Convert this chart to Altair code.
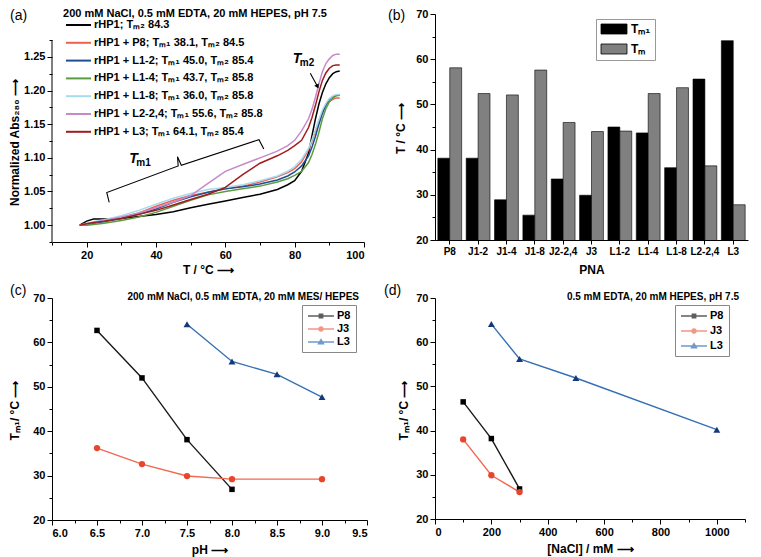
import altair as alt
import pandas as pd

FONT = "Liberation Sans"

# ---------------- Panel (a): melting curves ----------------
T_A = [18, 20, 22, 25, 30, 35, 40, 45, 50, 55, 60, 65, 70, 75, 78, 80, 82, 84, 85, 86, 87, 88, 89, 90, 91, 92, 93]
ABS_RHP1 = [1.000, 1.006, 1.009, 1.009, 1.010, 1.013, 1.016, 1.020, 1.026, 1.031, 1.036, 1.041, 1.046, 1.053,
            1.060, 1.066, 1.080, 1.107, 1.133, 1.158, 1.180, 1.197, 1.210, 1.219, 1.225, 1.228, 1.229]
ABS_P8 = [1.000, 1.002, 1.004, 1.006, 1.011, 1.018, 1.028, 1.037, 1.044, 1.049, 1.054, 1.058, 1.064, 1.072,
          1.078, 1.084, 1.094, 1.112, 1.125, 1.140, 1.155, 1.168, 1.178, 1.184, 1.187, 1.189, 1.189]
ABS_L12 = [1.000, 1.001, 1.003, 1.005, 1.010, 1.016, 1.024, 1.034, 1.042, 1.049, 1.054, 1.057, 1.061, 1.067,
           1.073, 1.079, 1.088, 1.103, 1.116, 1.132, 1.150, 1.166, 1.179, 1.187, 1.191, 1.193, 1.193]
ABS_L14 = [1.000, 1.000, 1.001, 1.003, 1.007, 1.012, 1.019, 1.028, 1.037, 1.045, 1.050, 1.054, 1.058, 1.064,
           1.069, 1.074, 1.080, 1.093, 1.105, 1.120, 1.138, 1.158, 1.173, 1.183, 1.189, 1.192, 1.193]
ABS_L18 = [1.000, 1.002, 1.005, 1.008, 1.014, 1.022, 1.031, 1.040, 1.047, 1.053, 1.056, 1.060, 1.066, 1.073,
           1.080, 1.087, 1.098, 1.114, 1.127, 1.142, 1.157, 1.171, 1.181, 1.188, 1.192, 1.194, 1.194]
ABS_L224 = [1.000, 1.002, 1.004, 1.007, 1.012, 1.018, 1.026, 1.034, 1.044, 1.062, 1.080, 1.090, 1.100, 1.110,
            1.118, 1.126, 1.140, 1.158, 1.172, 1.190, 1.210, 1.228, 1.240, 1.247, 1.252, 1.254, 1.254]
ABS_L3 = [1.000, 1.002, 1.004, 1.006, 1.010, 1.016, 1.022, 1.030, 1.038, 1.046, 1.056, 1.075, 1.092, 1.103,
          1.111, 1.118, 1.126, 1.145, 1.160, 1.178, 1.198, 1.215, 1.226, 1.233, 1.237, 1.238, 1.238]
CURVES_A = [ABS_RHP1, ABS_P8, ABS_L12, ABS_L14, ABS_L18, ABS_L224, ABS_L3]
NAMES_A = ["rHP1", "rHP1 + P8", "rHP1 + L1-2", "rHP1 + L1-4", "rHP1 + L1-8", "rHP1 + L2-2,4", "rHP1 + L3"]
TM1_A = [None, 38.1, 45.0, 43.7, 36.0, 55.6, 64.1]
TM2_A = [84.3, 84.5, 85.4, 85.8, 85.8, 85.8, 85.4]
COLORS_A = ["#000000", "#f0604c", "#1f4e96", "#5c9c3c", "#a6dcee", "#c68ac8", "#a01c1c"]
A_X_RANGE = [10, 100]
A_Y_RANGE = [0.975, 1.275]

BRACE_T = [26.5, 25.8, 46.4, 46.2, 47.3, 69.7, 71.1]
BRACE_A = [1.034, 1.0485, 1.088, 1.1016, 1.089, 1.127, 1.113]
ARROW_T = [84.5, 86.6]
ARROW_A = [1.2256, 1.2058]
NOTE_T = [33.5, 80.7]
NOTE_A = [1.098, 1.2467]
NOTE_SUB = ["m1", "m2"]

# ---------------- Panel (b): bars ----------------
PNA = ["P8", "J1-2", "J1-4", "J1-8", "J2-2,4", "J3", "L1-2", "L1-4", "L1-8", "L2-2,4", "L3"]
TM1_B = [38.1, 38.1, 28.9, 25.5, 33.5, 29.9, 45.0, 43.7, 36.0, 55.6, 64.1]
TM_B = [58.1, 52.4, 52.1, 57.6, 46.0, 44.0, 44.1, 52.4, 53.7, 36.4, 27.8]
SER_B = ["Tₘ₁", "Tₘ"]
COLORS_B = ["#000000", "#808080"]

# ---------------- Panels (c), (d) ----------------
SER_CD = ["P8", "J3", "L3"]
PH_C = [[6.5, 7.0, 7.5, 8.0], [6.5, 7.0, 7.5, 8.0, 9.0], [7.5, 8.0, 8.5, 9.0]]
TM_C = [[62.7, 52.0, 38.1, 26.9], [36.2, 32.6, 29.9, 29.2, 29.2], [64.1, 55.7, 52.8, 47.7]]
NACL_D = [[100, 200, 300], [100, 200, 300], [200, 300, 500, 1000]]
TM_D = [[46.5, 38.2, 26.8], [38.0, 29.9, 26.1], [64.1, 56.2, 51.9, 40.2]]
LINE_COLS = ["#1a1a1a", "#ef6a50", "#3470b3"]
MARK_COLS = ["#000000", "#e8462c", "#16397a"]
SHAPES = ["square", "circle", "triangle-up"]
MARK_SIZES = [30, 40, 48]

# ---------------- layout ----------------
WA, HA_AXIS, HA = 312, 202, 228
WB, HB = 313, 226
WC, HC = 315, 222
WD, HD = 310, 221

one = pd.DataFrame({"k": [0]})


def tick_cond(test):
    return {"condition": {"test": test, "value": 5}, "value": 3}


def txt(x, y, s, **kw):
    return alt.Chart(one).mark_text(**kw).encode(x=alt.value(x), y=alt.value(y), text=alt.value(s))


# legend symbol paths (unit radius = 5 px at symbolSize 100); line runs to the right of the symbol column
def leg_path(marker):
    c = 1.6
    line = "M-1,0H4.2"
    if marker == "square":
        a, b = 0.33, 0.12
        return (line + f"M{c-a},{-a}H{c+a}V{a}H{c-a}Z" + f"M{c-b},{-b}H{c+b}V{b}H{c-b}Z")
    if marker == "circle":
        a, b = 0.38, 0.12
        return (line + f"M{c-a},0A{a},{a} 0 1,0 {c+a},0A{a},{a} 0 1,0 {c-a},0Z"
                + f"M{c-b},0A{b},{b} 0 1,0 {c+b},0A{b},{b} 0 1,0 {c-b},0Z")
    a = 0.48
    return (line + f"M{c-a},{0.34}L{c},{-0.46}L{c+a},{0.34}Z" + f"M{c-0.16},{0.12}L{c},{-0.15}L{c+0.16},{0.12}Z")


LEG_PATHS = [leg_path(s) for s in SHAPES]

# ===== Panel (a) =====
rows = []
labels_a = []
for name, t1, t2, ys in zip(NAMES_A, TM1_A, TM2_A, CURVES_A):
    lab = name + "; " + (f"Tₘ₁ {t1:.1f}, " if t1 is not None else "") + f"Tₘ₂ {t2:.1f}"
    labels_a.append(lab)
    for t, a in zip(T_A, ys):
        rows.append({"T": t, "A": a, "label": lab})
df_a = pd.DataFrame(rows)

ytop = A_Y_RANGE[1] + (HA - HA_AXIS) / HA_AXIS * (A_Y_RANGE[1] - A_Y_RANGE[0])
xa = alt.Scale(domain=A_X_RANGE, nice=False, zero=False)
ya = alt.Scale(domain=[A_Y_RANGE[0], ytop], nice=False, zero=False)
major_a_y = "abs(datum.value*20 - round(datum.value*20)) < 0.001"
axis_xa = alt.Axis(values=list(range(10, 101, 10)), labelExpr="datum.value % 20 === 0 ? datum.label : ''",
                   tickSize=tick_cond("datum.value % 20 === 0"), title="T / °C ⟶", titlePadding=4)
axis_ya = alt.Axis(values=[round(A_Y_RANGE[0] + 0.025 * k, 3) for k in range(13)], format=".2f",
                   labelExpr=f"{major_a_y} ? datum.label : ''", tickSize=tick_cond(major_a_y), domain=False,
                   title="Normalized Abs₂₈₀ ⟶", titleAngle=270, titleX=-31, titleY=128,
                   titleBaseline="bottom", titleAlign="center")
leg_a = alt.Legend(title=None, orient="none", legendX=13, legendY=5, symbolType="M-1,0H4", symbolSize=100,
                   symbolStrokeWidth=2, labelFontSize=11, labelFontWeight="bold", labelFont=FONT,
                   rowPadding=6.8, labelOffset=17, padding=0, labelLimit=400)


def XA(f="T"):
    return alt.X(f"{f}:Q", scale=xa, axis=axis_xa)


def YA(f="A"):
    return alt.Y(f"{f}:Q", scale=ya, axis=axis_ya)


lines_a = alt.Chart(df_a).mark_line(strokeWidth=1.5).encode(
    x=XA(), y=YA(),
    color=alt.Color("label:N", scale=alt.Scale(domain=labels_a, range=COLORS_A), legend=leg_a, sort=labels_a),
)
yrule_a = alt.Chart(pd.DataFrame({"T": [A_X_RANGE[0]], "A": [A_Y_RANGE[0]], "A2": [A_Y_RANGE[1]]})).mark_rule(
    color="black", strokeWidth=1).encode(x=XA(), y=YA(), y2="A2:Q")
brace = alt.Chart(pd.DataFrame({"T": BRACE_T, "A": BRACE_A, "o": list(range(len(BRACE_T)))})).mark_line(
    color="black", strokeWidth=1.1).encode(x=XA(), y=YA(), order="o:Q")
arrow = alt.Chart(pd.DataFrame({"T": [ARROW_T[0]], "A": [ARROW_A[0]], "T2": [ARROW_T[1]], "A2": [ARROW_A[1]]})).mark_rule(
    color="black", strokeWidth=1.1).encode(x=XA(), y=YA(), x2="T2:Q", y2="A2:Q")
arrowhead = alt.Chart(pd.DataFrame({"T": [ARROW_T[1]], "A": [ARROW_A[1]]})).mark_point(
    shape="triangle-up", angle=152, filled=True, size=26, color="black", opacity=1).encode(x=XA(), y=YA())
notes = pd.DataFrame({"T": NOTE_T, "A": NOTE_A, "sub": NOTE_SUB})
note_t = alt.Chart(notes).mark_text(text="T", fontStyle="italic", fontWeight="bold", fontSize=14, font=FONT).encode(
    x=XA(), y=YA())
note_s = alt.Chart(notes).mark_text(fontWeight="bold", fontSize=10, font=FONT, dx=10, dy=4).encode(
    x=XA(), y=YA(), text="sub:N")
title_a = txt(143, 0, "200 mM NaCl, 0.5 mM EDTA, 20 mM HEPES, pH 7.5", fontSize=11, fontWeight="bold",
              baseline="middle", font=FONT)
plab_a = txt(-42, 2, "(a)", fontSize=14, align="left", baseline="middle", font=FONT)

panel_a = alt.layer(lines_a, yrule_a, brace, arrow, arrowhead, note_t, note_s, title_a, plab_a).properties(
    width=WA, height=HA)

# ===== Panel (b) =====
rows = []
for p, v1, v2 in zip(PNA, TM1_B, TM_B):
    rows.append({"PNA": p, "series": SER_B[0], "T": v1})
    rows.append({"PNA": p, "series": SER_B[1], "T": v2})
df_b = pd.DataFrame(rows)
leg_b = alt.Legend(title=None, orient="none", legendX=161, legendY=5, symbolType="M-1,-1H4.2V1H-1Z",
                   symbolSize=100, symbolStrokeColor="black", symbolStrokeWidth=0.8, strokeColor="#999999",
                   fillColor="white", padding=4, rowPadding=6, labelFontSize=12, labelFontWeight="bold",
                   labelFont=FONT, labelOffset=19)
bars = alt.Chart(df_b).mark_bar(stroke="black", strokeWidth=0.6, clip=True).encode(
    x=alt.X("PNA:N", sort=PNA, scale=alt.Scale(paddingInner=0.16, paddingOuter=0.1),
            axis=alt.Axis(title="PNA", labelAngle=0, labelFontSize=10, tickSize=4, titlePadding=8)),
    xOffset=alt.XOffset("series:N", sort=SER_B),
    y=alt.Y("T:Q", scale=alt.Scale(domain=[20, 70], nice=False, zero=False),
            axis=alt.Axis(values=list(range(20, 71, 5)), labelExpr="datum.value % 10 === 0 ? datum.label : ''",
                          tickSize=tick_cond("datum.value % 10 === 0"), title="T / °C ⟶", titleAngle=270,
                          titleX=-28, titleY=114, titleBaseline="bottom", titleAlign="center")),
    color=alt.Color("series:N", scale=alt.Scale(domain=SER_B, range=COLORS_B), legend=leg_b, sort=SER_B),
)
plab_b = txt(-47, 2, "(b)", fontSize=14, align="left", baseline="middle", font=FONT)
panel_b = alt.layer(bars, plab_b).properties(width=WB, height=HB)


# ===== Panels (c), (d) =====
def line_panel(xs_list, ys_list, xdomain, xvalues, major_test, label_fmt, xtitle, w, h, leg_x, leg_y, row_pad,
               cond_text, cond_right, plabel, plabel_x, ytitle_x):
    rows = []
    for s, xs, ys in zip(SER_CD, xs_list, ys_list):
        for xv, yv in zip(xs, ys):
            rows.append({"x": xv, "y": yv, "series": s})
    df = pd.DataFrame(rows)
    xs_ = alt.Scale(domain=xdomain, nice=False, zero=False)
    ys_ = alt.Scale(domain=[20, 70], nice=False, zero=False)
    ax_x = alt.Axis(values=xvalues, labelExpr=f"{major_test} ? format(datum.value, '{label_fmt}') : ''",
                    tickSize=tick_cond(major_test), title=xtitle, titlePadding=6)
    ax_y = alt.Axis(values=list(range(20, 71, 5)), labelExpr="datum.value % 10 === 0 ? datum.label : ''",
                    tickSize=tick_cond("datum.value % 10 === 0"), title="Tₘ₁/ °C ⟶", titleAngle=270,
                    titleX=ytitle_x, titleY=112, titleBaseline="bottom", titleAlign="center")
    X = alt.X("x:Q", scale=xs_, axis=ax_x)
    Y = alt.Y("y:Q", scale=ys_, axis=ax_y)
    cscale = alt.Scale(domain=SER_CD, range=LINE_COLS)
    leg = alt.Legend(title=None, orient="none", legendX=leg_x, legendY=leg_y, symbolSize=100,
                     symbolStrokeWidth=1.5, labelFontSize=11, labelFontWeight="bold", labelFont=FONT,
                     rowPadding=row_pad, padding=5, strokeColor="#888888", fillColor="white", labelOffset=18)
    line = alt.Chart(df).mark_line(strokeWidth=1.4).encode(
        x=X, y=Y, color=alt.Color("series:N", scale=cscale, legend=leg, sort=SER_CD))
    layers = [line]
    for s, shp, col, sz in zip(SER_CD, SHAPES, MARK_COLS, MARK_SIZES):
        layers.append(alt.Chart(df).transform_filter(alt.datum.series == s).mark_point(
            shape=shp, filled=True, size=sz, color=col, opacity=1).encode(x=X, y=Y))
    leg_layer = alt.Chart(df).mark_point(size=0, filled=False, strokeWidth=1.5).encode(
        x=X, y=Y,
        color=alt.Color("series:N", scale=cscale, legend=leg, sort=SER_CD),
        shape=alt.Shape("series:N", scale=alt.Scale(domain=SER_CD, range=LEG_PATHS), legend=leg, sort=SER_CD))
    layers.append(leg_layer)
    layers.append(txt(w - cond_right, -1, cond_text, fontSize=10, fontWeight="bold", align="right",
                      baseline="middle", font=FONT))
    layers.append(txt(plabel_x, -7, plabel, fontSize=14, align="left", baseline="middle", font=FONT))
    return alt.layer(*layers).properties(width=w, height=h)


panel_c = line_panel(PH_C, TM_C, [6.0, 9.5], [round(6.0 + 0.25 * k, 2) for k in range(15)],
                     "datum.value % 0.5 === 0", ".1f", "pH ⟶", WC, HC, 250, 7, 2,
                     "200 mM NaCl, 0.5 mM EDTA, 20 mM MES/ HEPES", 8, "(c)", -42, -31)
panel_d = line_panel(NACL_D, TM_D, [0, 1100], list(range(0, 1101, 100)),
                     "datum.value % 200 === 0", "d", "[NaCl] / mM ⟶", WD, HD, 240, 7, 4,
                     "0.5 mM EDTA, 20 mM HEPES, pH 7.5", 6, "(d)", -51, -25)

chart = alt.concat(panel_a, panel_b, panel_c, panel_d, columns=2, spacing={"row": 56, "column": 68},
                   bounds="flush", align="none").resolve_scale(
    x="independent", y="independent", color="independent", shape="independent"
).properties(padding={"left": 0, "top": 0, "right": 4, "bottom": 4}).configure(font=FONT).configure_axis(
    labelFont=FONT, titleFont=FONT, labelFontWeight="bold", titleFontWeight="bold", labelFontSize=11,
    titleFontSize=12, labelColor="black", titleColor="black", domainColor="black", tickColor="black",
    grid=False, labelPadding=2
).configure_view(strokeWidth=0).configure_legend(labelFont=FONT, labelColor="black")

chart.save("out.html", embed_options={"renderer": "svg", "actions": False})
